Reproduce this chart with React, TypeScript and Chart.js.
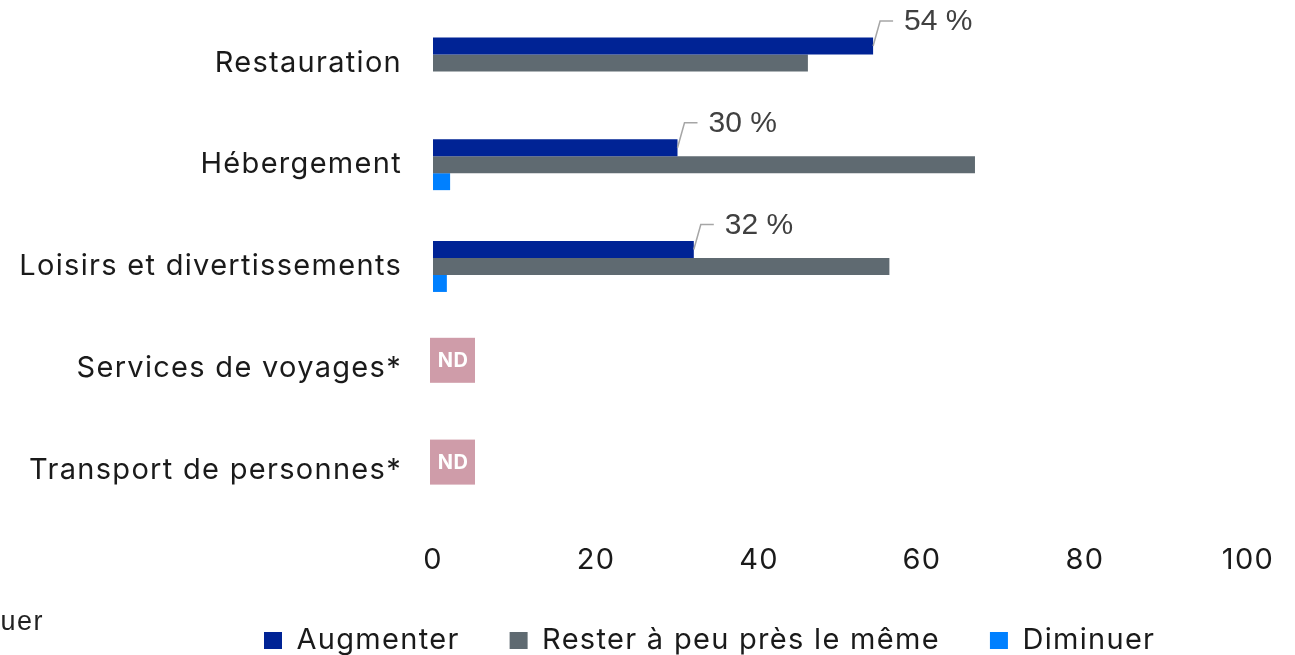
import React, { useEffect, useRef } from "react";
import { Chart, registerables } from "chart.js";

Chart.register(...registerables);

const categories = [
  "Restauration",
  "Hébergement",
  "Loisirs et divertissements",
  "Services de voyages*",
  "Transport de personnes*",
];
const seriesNames = ["Augmenter", "Rester à peu près le même", "Diminuer"];
const augmenter = [54, 30, 32, null, null];
const rester = [46, 66.5, 56, null, null];
const diminuer = [0, 2.1, 1.7, null, null];
const augmenterLabels = ["54 %", "30 %", "32 %", null, null];
const ndFlags = [false, false, false, true, true];
const xMin = 0;
const xMax = 100;
const xStep = 20;
const strayText = "Diminuer";

const colors = ["#002395", "#5f6a71", "#0080ff"];
const FONT = "Inter, 'Noto Sans', sans-serif";
const FONT_SIZE = 29;
const SPACING = "1.3px";
const LEGEND_PAD = 50;
const LEGEND_START = 264;

const spacingPlugin = {
  id: "spacing",
  beforeUpdate(chart: any) {
    chart.ctx.letterSpacing = SPACING;
  },
  beforeDraw(chart: any) {
    chart.ctx.letterSpacing = SPACING;
  },
  afterLayout(chart: any) {
    const lg = chart.legend;
    if (lg) {
      const w = lg.right - lg.left;
      lg.left = LEGEND_START - LEGEND_PAD;
      lg.right = lg.left + w;
    }
  },
};

const annotPlugin = {
  id: "annot",
  afterDatasetsDraw(chart: any) {
    const ctx = chart.ctx;
    const meta = chart.getDatasetMeta(0);
    meta.data.forEach((bar: any, i: number) => {
      const label = augmenterLabels[i];
      if (!label) return;
      const { x, y } = bar.getProps(["x", "y"], true);
      const ly = y - 25;
      ctx.save();
      ctx.letterSpacing = "0px";
      ctx.strokeStyle = "#a6a6a6";
      ctx.lineWidth = 1.5;
      ctx.beginPath();
      ctx.moveTo(x, y);
      ctx.lineTo(x + 7, ly);
      ctx.lineTo(x + 20, ly);
      ctx.stroke();
      ctx.fillStyle = "#404040";
      ctx.font = "30px 'Liberation Sans', Arial, sans-serif";
      ctx.textBaseline = "middle";
      ctx.textAlign = "left";
      ctx.fillText(label, x + 31, ly + 1);
      ctx.restore();
    });
    const yScale = chart.scales.y;
    const area = chart.chartArea;
    ndFlags.forEach((nd, i) => {
      if (!nd) return;
      const cy = yScale.getPixelForValue(i) - 8;
      const left = area.left - 3;
      const size = 45;
      ctx.save();
      ctx.letterSpacing = "0.5px";
      ctx.fillStyle = "#cf9ca9";
      ctx.fillRect(left, cy - size / 2, size, size);
      ctx.fillStyle = "#ffffff";
      ctx.font = "bold 20px " + FONT;
      ctx.textAlign = "center";
      ctx.textBaseline = "middle";
      ctx.fillText("ND", left + size / 2 + 0.5, cy + 1);
      ctx.restore();
    });
    ctx.save();
    ctx.letterSpacing = "1.5px";
    ctx.fillStyle = "#222222";
    ctx.font = "27px 'Liberation Sans', Arial, sans-serif";
    ctx.textAlign = "right";
    ctx.textBaseline = "alphabetic";
    ctx.fillText(strayText, 44, 630);
    ctx.restore();
  },
};

export default function App() {
  const ref = useRef<HTMLCanvasElement | null>(null);
  useEffect(() => {
    if (!ref.current) return;
    const data = [augmenter, rester, diminuer];
    const chart = new Chart(ref.current, {
      type: "bar",
      data: {
        labels: categories,
        datasets: seriesNames.map((name, k) => ({
          label: name,
          data: data[k] as any,
          backgroundColor: colors[k],
          borderWidth: 0,
          categoryPercentage: 0.5,
          barPercentage: 1,
        })),
      },
      options: {
        indexAxis: "y",
        animation: false,
        responsive: false,
        maintainAspectRatio: false,
        devicePixelRatio: 1,
        layout: { padding: { left: 15, top: 12, right: 47, bottom: 0 } },
        scales: {
          x: {
            type: "linear",
            min: xMin,
            max: xMax,
            grid: { display: false },
            border: { display: false },
            ticks: {
              stepSize: xStep,
              padding: 14,
              color: "#1a1a1a",
              font: { family: FONT, size: FONT_SIZE },
            },
            afterFit: (scale: any) => {
              scale.height = 55;
              scale.paddingLeft = 0;
              scale.paddingRight = 0;
            },
          },
          y: {
            type: "category",
            grid: { display: false },
            border: { display: false },
            ticks: {
              padding: 23,
              color: "#1a1a1a",
              font: { family: FONT, size: FONT_SIZE },
            },
            afterFit: (scale: any) => {
              scale.width = 418;
              scale.paddingTop = 0;
              scale.paddingBottom = 0;
            },
          },
        },
        plugins: {
          legend: {
            position: "bottom",
            align: "start",
            labels: {
              boxWidth: 18,
              boxHeight: 17,
              padding: LEGEND_PAD,
              color: "#1a1a1a",
              font: { family: FONT, size: FONT_SIZE },
            },
          },
          tooltip: { enabled: false },
        },
      },
      plugins: [spacingPlugin, annotPlugin],
    } as any);
    return () => chart.destroy();
  }, []);
  return (
    <div
      style={{
        position: "fixed",
        left: 0,
        top: 0,
        width: 1295,
        height: 655,
        overflow: "hidden",
        background: "#ffffff",
      }}
    >
      <canvas ref={ref} width={1295} height={665} style={{ display: "block" }} />
    </div>
  );
}
